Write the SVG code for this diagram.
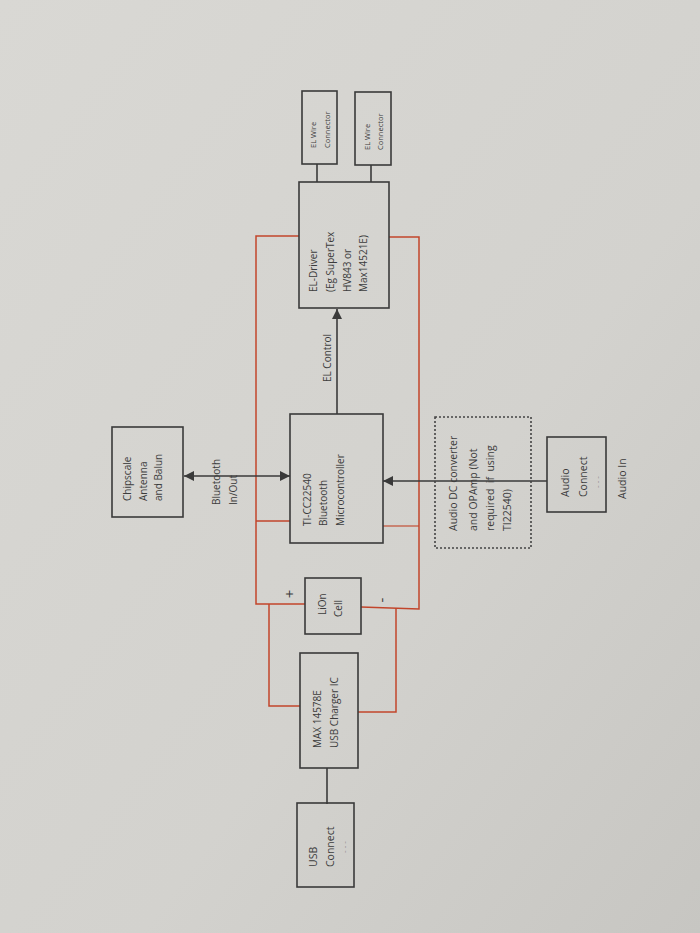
<svg xmlns="http://www.w3.org/2000/svg" width="700" height="933" viewBox="0 0 700 933">
<style>
.box{fill:none;stroke:#3a3a3a;stroke-width:1.6}
.dot{fill:none;stroke:#444;stroke-width:1.6;stroke-dasharray:2 2}
.ln{fill:none;stroke:#3a3a3a;stroke-width:1.6}
.red{fill:none;stroke:#c2452b;stroke-width:1.5}
text{font-family:"Open Sans","Liberation Sans",sans-serif;fill:#3c3c3c;font-size:10px}
.sm{font-size:7.5px}
.md{font-size:10.5px}
.dash{fill:#8a8a8a;font-size:8px}
.sign{font-size:15px}
</style>
<defs>
<linearGradient id="bg" x1="0" y1="0" x2="1" y2="1">
<stop offset="0" stop-color="#d9d8d4"/>
<stop offset="0.6" stop-color="#d3d2ce"/>
<stop offset="1" stop-color="#c7c6c2"/>
</linearGradient>
<marker id="ah" viewBox="0 0 10 10" refX="10" refY="5" markerWidth="10" markerHeight="10" markerUnits="userSpaceOnUse" orient="auto-start-reverse">
<path d="M0,0 L10,5 L0,10 Z" fill="#3a3a3a"/>
</marker>
</defs>
<rect width="700" height="933" fill="url(#bg)"/>

<g id="connectors">
<polyline class="red" points="299,236 256,236 256,604 305,604"/>
<polyline class="red" points="389,237 419,237 419,609 361,607"/>
<line class="red" x1="256" y1="521" x2="290" y2="521"/>
<line class="red" x1="383" y1="526" x2="419" y2="526" stroke-opacity="0.75"/>
<polyline class="red" points="269,604 269,706 300,706"/>
<polyline class="red" points="396,608 396,712 358,712"/>
<line class="ln" x1="317" y1="164" x2="317" y2="182"/>
<line class="ln" x1="371" y1="165" x2="371" y2="182"/>
<line class="ln" x1="337" y1="414" x2="337" y2="309" marker-end="url(#ah)"/>
<line class="ln" x1="184" y1="476" x2="290" y2="476" marker-start="url(#ah)" marker-end="url(#ah)"/>
<line class="ln" x1="547" y1="481" x2="383" y2="481" marker-end="url(#ah)"/>
<line class="ln" x1="327" y1="768" x2="327" y2="804"/>
<text transform="translate(220,505) rotate(-90)">Bluetooth</text>
<text transform="translate(237,505) rotate(-90)">In/Out</text>
<text transform="translate(331,382) rotate(-90)">EL Control</text>
<text class="sign" transform="translate(295,594) rotate(-90)" text-anchor="middle">+</text>
<text class="sign" transform="translate(387,600) rotate(-90)" text-anchor="middle">-</text>
</g>

<g id="elwire1">
<rect class="box" x="302" y="91" width="35" height="73"/>
<text class="sm" transform="translate(316,148) rotate(-90)">EL Wire</text>
<text class="sm" transform="translate(330,148) rotate(-90)">Connector</text>
</g>
<g id="elwire2">
<rect class="box" x="355" y="92" width="36" height="73"/>
<text class="sm" transform="translate(370,150) rotate(-90)">EL Wire</text>
<text class="sm" transform="translate(383,150) rotate(-90)">Connector</text>
</g>

<g id="eldriver">
<rect class="box" x="299" y="182" width="90" height="126"/>
<text transform="translate(317,292) rotate(-90)">EL-Driver</text>
<text transform="translate(334,292) rotate(-90)">(Eg SuperTex</text>
<text transform="translate(351,292) rotate(-90)">HV843 or</text>
<text transform="translate(367,292) rotate(-90)">Max14521E)</text>
</g>

<g id="chipscale">
<rect class="box" x="112" y="427" width="71" height="90"/>
<text transform="translate(131,501) rotate(-90)">Chipscale</text>
<text transform="translate(147,501) rotate(-90)">Antenna</text>
<text transform="translate(162,501) rotate(-90)">and Balun</text>
</g>

<g id="mcu">
<rect class="box" x="290" y="414" width="93" height="129"/>
<text transform="translate(311,526) rotate(-90)">TI-CC22540</text>
<text transform="translate(327,526) rotate(-90)">Bluetooth</text>
<text transform="translate(344,526) rotate(-90)">Microcontroller</text>
</g>

<g id="audioconv">
<rect class="dot" x="435" y="417" width="96" height="131"/>
<text class="md" transform="translate(457,531) rotate(-90)">Audio DC converter</text>
<text class="md" transform="translate(477,531) rotate(-90)">and OPAmp (Not</text>
<text class="md" transform="translate(494,531) rotate(-90)" xml:space="preserve">required  if  using</text>
<text class="md" transform="translate(511,531) rotate(-90)">TI22540)</text>
</g>

<g id="audioconnect">
<rect class="box" x="547" y="437" width="59" height="75"/>
<text class="md" transform="translate(569,497) rotate(-90)">Audio</text>
<text class="md" transform="translate(587,497) rotate(-90)">Connect</text>
<text class="dash" transform="translate(600,488) rotate(-90)">- - -</text>
</g>

<g id="audioin">
<text class="md" transform="translate(626,499) rotate(-90)">Audio In</text>
</g>

<g id="lion">
<rect class="box" x="305" y="578" width="56" height="56"/>
<text transform="translate(326,615) rotate(-90)">LiOn</text>
<text transform="translate(342,617) rotate(-90)">Cell</text>
</g>

<g id="max">
<rect class="box" x="300" y="653" width="58" height="115"/>
<text transform="translate(321,748) rotate(-90)">MAX 14578E</text>
<text transform="translate(338,748) rotate(-90)">USB Charger IC</text>
</g>

<g id="usb">
<rect class="box" x="297" y="803" width="57" height="84"/>
<text class="md" transform="translate(317,867) rotate(-90)">USB</text>
<text class="md" transform="translate(334,867) rotate(-90)">Connect</text>
<text class="dash" transform="translate(347,853) rotate(-90)">- - -</text>
</g>
</svg>
